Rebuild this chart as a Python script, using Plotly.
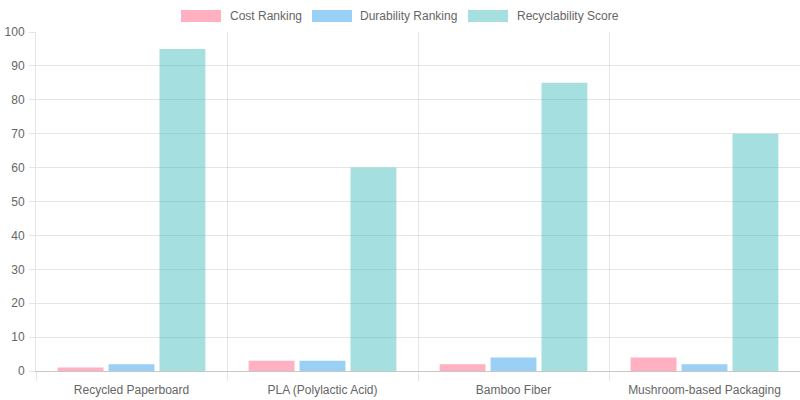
import plotly.graph_objects as go

categories = ["Recycled Paperboard", "PLA (Polylactic Acid)", "Bamboo Fiber", "Mushroom-based Packaging"]
cost_ranking = [1, 3, 2, 4]
durability_ranking = [2, 3, 4, 2]
recyclability_score = [95, 60, 85, 70]

series_names = ["Cost Ranking", "Durability Ranking", "Recyclability Score"]
series_values = [cost_ranking, durability_ranking, recyclability_score]
fills = ["rgba(255,99,132,0.5)", "rgba(54,162,235,0.5)", "rgba(75,192,192,0.5)"]

fig = go.Figure()
for name, vals, col in zip(series_names, series_values, fills):
    fig.add_trace(go.Bar(x=categories, y=vals, name=name, marker=dict(color=col, line=dict(width=0)),
                         showlegend=False))

font = dict(family="Liberation Sans, Arial, sans-serif", size=12, color="#666")
grid = "rgba(0,0,0,0.1)"

# custom legend (Chart.js style wide boxes)
legend_items = [(181, 228, 0), (312, 358, 1), (468, 515, 2)]
for bx, tx, i in legend_items:
    fig.add_shape(type="rect", xref="paper", yref="paper",
                  x0=(bx - 36) / 764, x1=(bx + 40 - 36) / 764,
                  y0=(371 - 22) / 339, y1=(371 - 10) / 339,
                  fillcolor=fills[i], line=dict(width=0))
    fig.add_annotation(xref="paper", yref="paper", x=(tx - 36) / 764, y=(371 - 16) / 339,
                       text=series_names[i], showarrow=False, xanchor="left", yanchor="middle",
                       font=font)

fig.update_layout(
    width=800, height=400,
    margin=dict(l=36, r=0, t=32, b=29),
    barmode="group", bargap=0.2, bargroupgap=0.1,
    plot_bgcolor="white", paper_bgcolor="white",
    font=font,
    xaxis=dict(tickson="boundaries", showgrid=True, gridcolor=grid, ticks="outside", ticklen=9,
               tickcolor=grid, showline=True, linecolor="rgba(0,0,0,0.22)", tickfont=font,
               ticklabelstandoff=8, fixedrange=True),
    yaxis=dict(range=[0, 100], dtick=10, showgrid=True, gridcolor=grid, ticks="outside", ticklen=6,
               tickcolor=grid, showline=True, linecolor=grid, zeroline=False, tickfont=font,
               ticklabelstandoff=2),
)

fig.write_html("out.html")
